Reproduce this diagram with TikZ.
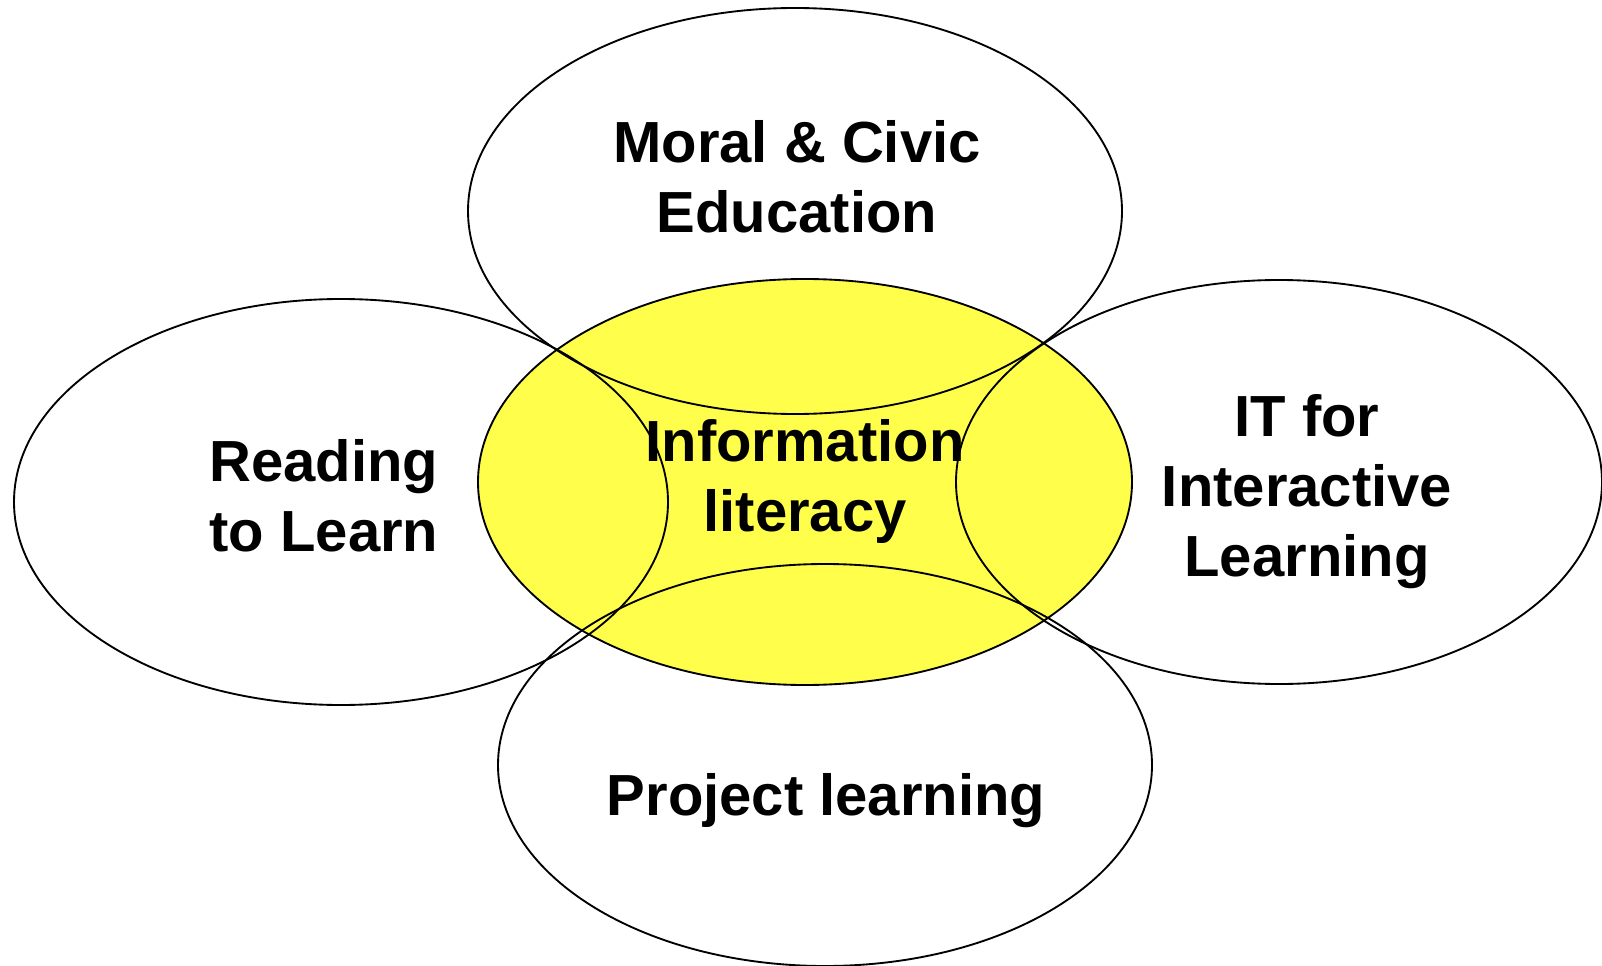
\documentclass[tikz,border=0pt]{standalone}
\usepackage{fontspec}
\setmainfont{Liberation Sans}
\usetikzlibrary{shapes.geometric}
\definecolor{lityellow}{RGB}{255,255,75}
\begin{document}
\begin{tikzpicture}[x=0.75pt,y=-0.75pt,
  ring/.style={ellipse, draw=black, line width=1.4pt, inner sep=0pt, minimum width=490.5pt, minimum height=304.5pt},
  txt/.style={font=\fontsize{43.5}{52.5}\selectfont\bfseries, align=center, anchor=base, inner sep=0pt}]
\useasboundingbox (0,0) rectangle (1602,966);
\node[ring, fill=lityellow] (info) at (805,482) {};
\node[ring] (moral) at (795,211) {};
\node[ring] (read) at (341,502) {};
\node[ring, minimum width=484.5pt, minimum height=303pt] (it) at (1279,482) {};
\node[ring, minimum height=301.5pt] (proj) at (825,765) {};
\node[txt] (tmoral) at (797,233) {Moral \& Civic\\Education};
\node[txt] (tinfo) at (805,531) {Information\\literacy};
\node[txt] (tread) at (324,551) {Reading\\to Learn};
\node[txt] (tit) at (1307,576) {IT for\\Interactive\\Learning};
\node[txt] (tproj) at (826,815) {Project learning};
\end{tikzpicture}
\end{document}
